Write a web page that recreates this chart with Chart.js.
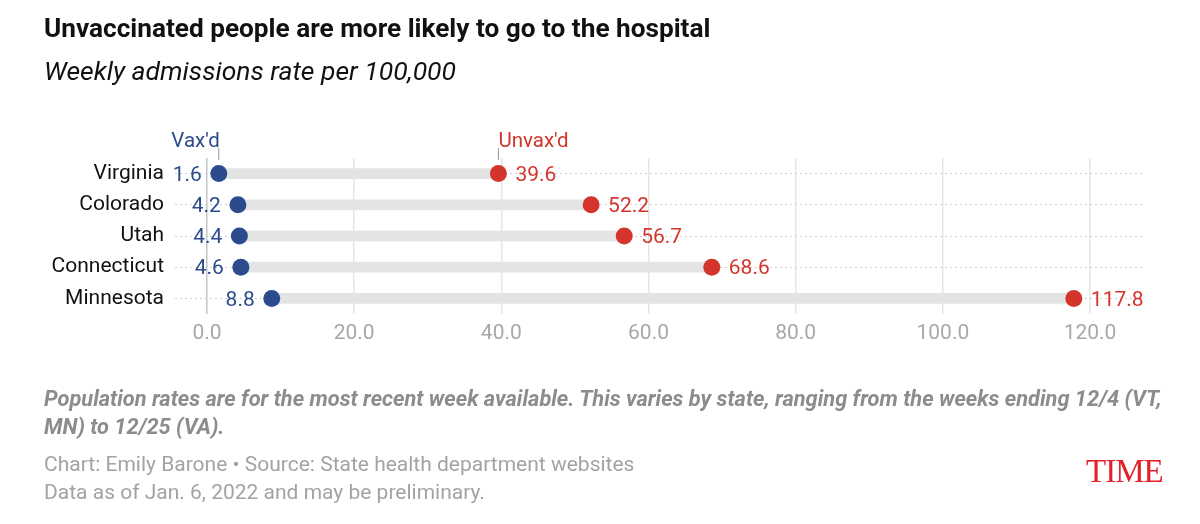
<!DOCTYPE html>
<html>
<head>
<meta charset="utf-8">
<script src="https://cdn.jsdelivr.net/npm/chart.js@4"></script>
<style>
  body { margin: 0; background: #fff; font-family: Roboto, "Noto Sans", sans-serif; }
  #wrap { position: relative; width: 1200px; height: 524px; overflow: hidden; }
  #chart { position: absolute; left: 0; top: 0; }
  .txt { position: absolute; left: 44px; white-space: nowrap; }
  .title { top: 12px; font-size: 26.2px; font-weight: 700; color: #111; line-height: 32px; }
  .sub { top: 55px; font-size: 26.5px; font-style: italic; color: #111; line-height: 32px; }
  .note { top: 385px; width: 1130px; white-space: normal; font-size: 21.8px; font-weight: 700; font-style: italic; color: #8c8c8c; line-height: 28px; }
  .src { top: 450px; font-size: 21px; color: #a3a3a3; line-height: 28px; }
  .logo { position: absolute; left: 1086px; top: 453px; font-family: "Liberation Serif", "DejaVu Serif", serif; font-size: 33px; color: #e3202a; letter-spacing: -1px; }
</style>
</head>
<body>
<div id="wrap">
  <canvas id="chart" width="1200" height="524"></canvas>
  <div class="txt title">Unvaccinated people are more likely to go to the hospital</div>
  <div class="txt sub">Weekly admissions rate per 100,000</div>
  <div class="txt note">Population rates are for the most recent week available. This varies by state, ranging from the weeks ending 12/4 (VT, MN) to 12/25 (VA).</div>
  <div class="txt src">Chart: Emily Barone • Source: State health department websites<br>Data as of Jan. 6, 2022 and may be preliminary.</div>
  <div class="logo">TIME</div>
</div>
<script>
// data
const states = ["Virginia", "Colorado", "Utah", "Connecticut", "Minnesota"];
const vaxRate = [1.6, 4.2, 4.4, 4.6, 8.8];
const unvaxRate = [39.6, 52.2, 56.7, 68.6, 117.8];
const xTicks = [0, 20, 40, 60, 80, 100, 120];
const seriesNames = ["Vax'd", "Unvax'd"];

const BLUE = "#2b4b8c";
const RED = "#d3352c";

const labelPlugin = {
    id: "dotLabels",
    afterDatasetsDraw(chart){
        const ctx = chart.ctx;
        const xs = chart.scales.x;
        const ys = chart.scales.y;
        ctx.save();
        ctx.font = "21px Roboto";
        ctx.textBaseline = "middle";
        states.forEach((s, i) => {
            let y = ys.getPixelForValue(i) + 2;
            ctx.fillStyle = BLUE;
            ctx.textAlign = "right";
            ctx.fillText(vaxRate[i].toFixed(1), xs.getPixelForValue(vaxRate[i]) - 17, y);
            ctx.fillStyle = RED;
            ctx.textAlign = "left";
            ctx.fillText(unvaxRate[i].toFixed(1), xs.getPixelForValue(unvaxRate[i]) + 17, y);
        });

        // series names over the first row
        let top = chart.chartArea.top;
        let xv = xs.getPixelForValue(vaxRate[0]);
        let xu = xs.getPixelForValue(unvaxRate[0]);
        ctx.strokeStyle = "#999";
        ctx.lineWidth = 1;
        ctx.beginPath();
        ctx.moveTo(xv, top - 10); ctx.lineTo(xv, top + 2);
        ctx.moveTo(xu, top - 10); ctx.lineTo(xu, top + 2);
        ctx.stroke();
        ctx.font = "20.5px Roboto";
        ctx.textBaseline = "alphabetic";
        ctx.fillStyle = BLUE;
        ctx.textAlign = "right";
        ctx.fillText(seriesNames[0], xv + 1, top - 11);
        ctx.fillStyle = RED;
        ctx.textAlign = "left";
        ctx.fillText(seriesNames[1], xu, top - 11);
        ctx.restore();
    }
};

new Chart(document.getElementById("chart"), {
    data: {
        labels: states,
        datasets: [
            {
                type: "line",
                data: vaxRate,
                showLine: false,
                pointRadius: 8.5,
                pointHoverRadius: 8.5,
                pointBackgroundColor: BLUE,
                pointBorderWidth: 0,
                order: 1
            },
            {
                type: "line",
                data: unvaxRate,
                showLine: false,
                pointRadius: 8.5,
                pointHoverRadius: 8.5,
                pointBackgroundColor: RED,
                pointBorderWidth: 0,
                order: 1
            },
            {
                type: "bar",
                data: vaxRate.map((v, i) => [v, unvaxRate[i]]),
                backgroundColor: "#e4e4e4",
                barThickness: 10,
                order: 2
            }
        ]
    },
    options: {
        indexAxis: "y",
        responsive: false,
        animation: false,
        layout: { padding: { left: 0, right: 57, top: 158, bottom: 170 } },
        plugins: { legend: { display: false }, tooltip: { enabled: false } },
        scales: {
            x: {
                type: "linear",
                min: -4.35,
                max: 127.2,
                afterBuildTicks: (scale) => { scale.ticks = xTicks.map(v => ({ value: v })); },
                afterFit: (scale) => { scale.height = 40; },
                ticks: {
                    color: "#a8a8a8",
                    font: { family: "Roboto", size: 21 },
                    padding: 7,
                    callback: (v) => Number(v).toFixed(1)
                },
                grid: {
                    drawTicks: false,
                    lineWidth: 1.5,
                    color: (c) => c.tick && c.tick.value === 0 ? "#c4c4c4" : "#e6e6e6"
                },
                border: { display: false }
            },
            y: {
                type: "category",
                offset: true,
                afterFit: (scale) => { scale.width = 175; },
                ticks: {
                    color: "#111",
                    font: { family: "Roboto", size: 21 },
                    padding: 11
                },
                grid: {
                    offset: false,
                    drawTicks: false,
                    color: "#cfcfcf",
                    lineWidth: 1
                },
                border: { display: false, dash: [2, 3] }
            }
        }
    },
    plugins: [labelPlugin]
});
</script>
</body>
</html>
